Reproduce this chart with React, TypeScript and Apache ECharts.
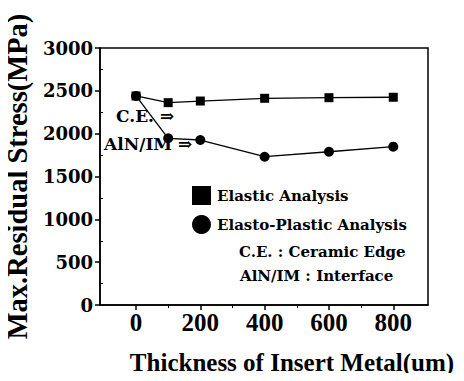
import React, { useEffect, useRef } from "react";
import * as echarts from "echarts";

const thickness = [0, 100, 200, 400, 600, 800];
const elastic = [2440, 2362, 2381, 2413, 2420, 2425];
const elastoPlastic = [2440, 1946, 1926, 1731, 1789, 1848];
const xTickValues = [0, 200, 400, 600, 800];
const xMinorValues = [100, 300, 500, 700];
const yMinorValues = [250, 750, 1250, 1750, 2250, 2750];

const TIMES = "Liberation Serif";
const WIDE = "DejaVu Serif";

export default function App() {
  const ref = useRef<HTMLDivElement>(null);
  useEffect(() => {
    if (!ref.current) return;
    const chart = echarts.init(ref.current, null, { renderer: "svg" });
    const axisLine = { show: true, onZero: false, lineStyle: { color: "#000", width: 1.5 } };
    const fmt = (v: number) => String(v);
    chart.setOption({
      animation: false,
      backgroundColor: "#fff",
      textStyle: { fontFamily: TIMES, color: "#000" },
      grid: {
        left: 100,
        top: 48,
        right: 36,
        bottom: 76,
        containLabel: false,
        outerBoundsMode: "none",
        show: true,
        borderColor: "#000",
        borderWidth: 1.5,
        backgroundColor: "transparent",
      },
      legend: {
        orient: "vertical",
        left: 192,
        top: 186,
        padding: 0,
        itemWidth: 19,
        itemHeight: 19,
        itemGap: 10,
        textStyle: { fontFamily: WIDE, fontWeight: "bold", fontSize: 15, color: "#000", padding: [0, 0, 0, 1] },
        data: [
          { name: "Elastic Analysis", icon: "rect" },
          { name: "Elasto-Plastic Analysis", icon: "circle" },
        ],
      },
      xAxis: [
        {
          type: "value",
          min: -112,
          max: 908,
          name: "Thickness of Insert Metal(um)",
          nameLocation: "middle",
          nameGap: 45,
          nameTextStyle: { fontFamily: TIMES, fontWeight: "bold", fontSize: 25, color: "#000", padding: [0, 0, 0, 56] },
          axisLine,
          splitLine: { show: false },
          axisTick: { show: true, customValues: xTickValues, length: 5, lineStyle: { color: "#000", width: 1.5 } },
          axisLabel: {
            customValues: xTickValues,
            formatter: fmt,
            fontFamily: TIMES,
            fontWeight: "bold",
            fontSize: 25,
            color: "#000",
            margin: 5,
          },
        },
        {
          type: "value",
          min: -112,
          max: 908,
          position: "bottom",
          axisLine: { show: false, onZero: false },
          splitLine: { show: false },
          axisTick: { show: true, customValues: xMinorValues, length: 3, lineStyle: { color: "#000", width: 1 } },
          axisLabel: { show: false },
        },
      ],
      yAxis: [
        {
          type: "value",
          min: 0,
          max: 3000,
          interval: 500,
          name: "Max.Residual Stress(MPa)",
          nameLocation: "middle",
          nameGap: 68,
          nameTextStyle: { fontFamily: TIMES, fontWeight: "bold", fontSize: 28.5, color: "#000" },
          axisLine,
          splitLine: { show: false },
          axisTick: { show: true, length: 5, lineStyle: { color: "#000", width: 1.5 } },
          axisLabel: { formatter: fmt, fontFamily: WIDE, fontWeight: "bold", fontSize: 18, color: "#000", margin: 7 },
        },
        {
          type: "value",
          min: 0,
          max: 3000,
          position: "left",
          axisLine: { show: false, onZero: false },
          splitLine: { show: false },
          axisTick: { show: true, inside: true, customValues: yMinorValues, length: 3, lineStyle: { color: "#000", width: 1 } },
          axisLabel: { show: false },
        },
      ],
      series: [
        {
          name: "Elastic Analysis",
          type: "line",
          data: thickness.map((t, i) => [t, elastic[i]]),
          symbol: "rect",
          symbolSize: 9,
          itemStyle: { color: "#000" },
          lineStyle: { color: "#000", width: 1.3 },
          z: 3,
        },
        {
          name: "Elasto-Plastic Analysis",
          type: "line",
          data: thickness.map((t, i) => [t, elastoPlastic[i]]),
          symbol: "circle",
          symbolSize: 10,
          itemStyle: { color: "#000" },
          lineStyle: { color: "#000", width: 1.3 },
          z: 3,
        },
      ],
      graphic: [
        {
          type: "text",
          left: 116,
          top: 107,
          z: 10,
          style: { text: "C.E. \u21D2", font: `bold 17px ${WIDE}`, fill: "#000" },
        },
        {
          type: "text",
          left: 104,
          top: 135,
          z: 10,
          style: { text: "AlN/IM \u21D2", font: `bold 17px ${WIDE}`, fill: "#000" },
        },
        {
          type: "text",
          left: 239,
          top: 244,
          style: { text: "C.E. : Ceramic Edge", font: `bold 15px ${WIDE}`, fill: "#000" },
        },
        {
          type: "text",
          left: 240,
          top: 268,
          style: { text: "AlN/IM : Interface", font: `bold 15px ${WIDE}`, fill: "#000" },
        },
      ],
    });
    return () => chart.dispose();
  }, []);
  return <div ref={ref} style={{ width: 464, height: 381, margin: -8 }} />;
}
